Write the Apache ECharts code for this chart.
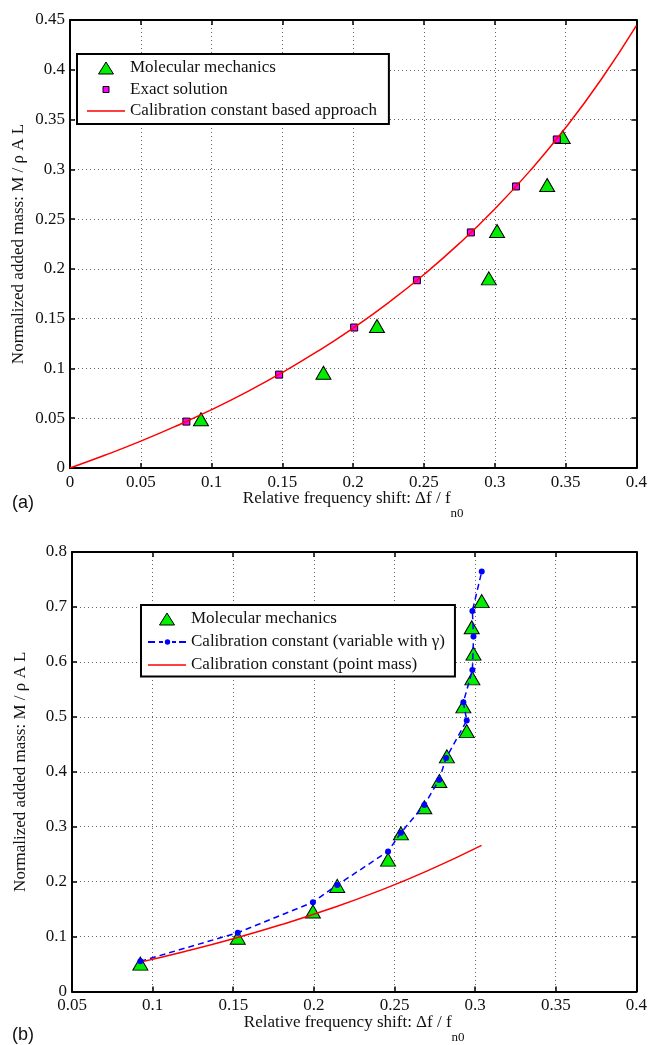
<!DOCTYPE html>
<html>
<head>
<meta charset="utf-8">
<script src="https://cdn.jsdelivr.net/npm/echarts@6/dist/echarts.min.js"></script>
<style>
html,body{margin:0;padding:0;background:#fff;}
#c{width:650px;height:1045px;}
</style>
</head>
<body>
<div id="c"></div>
<script>
// ---------- Panel (a) data ----------
const aMolX = [0.0925, 0.179, 0.2168, 0.2958, 0.3016, 0.337, 0.348];
const aMolY = [0.049, 0.0957, 0.1426, 0.1905, 0.238, 0.2842, 0.3325];
const aExactX = [0.0822, 0.1477, 0.2007, 0.245, 0.2831, 0.315, 0.3438];
const aExactY = [0.0466, 0.0938, 0.1411, 0.1886, 0.2366, 0.2828, 0.330];
const aCalX = [0, 0.025, 0.05, 0.075, 0.1, 0.125, 0.15, 0.175, 0.2, 0.225, 0.25, 0.275, 0.3, 0.325, 0.35, 0.375, 0.4];
const aCalY = [0, 0.013, 0.027, 0.0422, 0.0586, 0.0765, 0.096, 0.1173, 0.1406, 0.1662, 0.1944, 0.2256, 0.2602, 0.2987, 0.3417, 0.39, 0.4444];

// ---------- Panel (b) data ----------
const bMolX = [0.0924, 0.1528, 0.1994, 0.2145, 0.246, 0.254, 0.2685, 0.2778, 0.2825, 0.2948, 0.2927, 0.2983, 0.299, 0.2979, 0.3041];
const bMolY = [0.0507, 0.098, 0.1457, 0.1922, 0.240, 0.2878, 0.3355, 0.3833, 0.428, 0.474, 0.519, 0.570, 0.615, 0.663, 0.7106];
const bVarX = [0.0924, 0.1528, 0.1994, 0.2145, 0.246, 0.254, 0.2685, 0.2776, 0.282, 0.2948, 0.2927, 0.2983, 0.299, 0.2983, 0.3041];
const bVarY = [0.055, 0.107, 0.1624, 0.194, 0.255, 0.289, 0.3397, 0.385, 0.425, 0.4934, 0.5264, 0.585, 0.646, 0.6926, 0.7645];
const bPtX = [0.0924, 0.12, 0.15, 0.18, 0.21, 0.24, 0.27, 0.304];
const bPtY = [0.0535, 0.0728, 0.096, 0.1218, 0.1506, 0.1828, 0.2191, 0.2661];

// ---------- axis ranges / labels ----------
const aXRange = [0, 0.4], aYRange = [0, 0.45];
const bXRange = [0.05, 0.4], bYRange = [0, 0.8];
const xTitle = 'Relative frequency shift: Δf / f';
const xSub = 'n0';
const yTitle = 'Normalized added mass: M / ρ A L';
const legendA = ['Molecular mechanics', 'Exact solution', 'Calibration constant based approach'];
const legendB = ['Molecular mechanics', 'Calibration constant (variable with γ)', 'Calibration constant (point mass)'];
const panelLabels = ['(a)', '(b)'];

const zip = (xs, ys) => xs.map((x, i) => [x, ys[i]]);
const SERIF = 'Liberation Serif';
const FS = 17;

function fmt(v) { return String(+v.toFixed(3)); }

const tickStyle = { show: true, inside: true, length: 5, lineStyle: { color: '#000', width: 1.5 } };
const frameLine = { show: true, onZero: false, lineStyle: { color: '#000', width: 2 } };
const dotGrid = { show: true, lineStyle: { color: '#666', width: 1, type: [1, 3] } };

function mainX(grid, range, name) {
  return {
    type: 'value', gridIndex: grid, min: range[0], max: range[1], interval: 0.05,
    position: 'bottom',
    axisLine: frameLine, axisTick: tickStyle,
    axisLabel: { color: '#111', fontFamily: SERIF, fontSize: FS, margin: 6, formatter: fmt },
    splitLine: dotGrid,
    name: '{a|' + name + '}{b|' + xSub + '}',
    nameLocation: 'middle', nameGap: 21, nameMoveOverlap: false,
    nameTextStyle: {
      rich: {
        a: { fontFamily: SERIF, fontSize: 17, lineHeight: 20, color: '#111' },
        b: { fontFamily: SERIF, fontSize: 13, lineHeight: 14, color: '#111', padding: [30, 0, 0, 0] }
      }
    }
  };
}
function boxX(grid, range) {
  return {
    type: 'value', gridIndex: grid, min: range[0], max: range[1], interval: 0.05,
    position: 'top', axisLine: frameLine, axisTick: tickStyle,
    axisLabel: { show: false }, splitLine: { show: false }
  };
}
function mainY(grid, range, interval) {
  return {
    type: 'value', gridIndex: grid, min: range[0], max: range[1], interval: interval,
    position: 'left', axisLine: frameLine, axisTick: tickStyle,
    axisLabel: { color: '#111', fontFamily: SERIF, fontSize: FS, margin: 5, formatter: fmt },
    splitLine: dotGrid,
    name: yTitle, nameLocation: 'middle', nameGap: 43, nameRotate: 90, nameMoveOverlap: false,
    nameTextStyle: { fontFamily: SERIF, fontSize: 17, color: '#111' }
  };
}
function boxY(grid, range, interval) {
  return {
    type: 'value', gridIndex: grid, min: range[0], max: range[1], interval: interval,
    position: 'right', axisLine: frameLine, axisTick: tickStyle,
    axisLabel: { show: false }, splitLine: { show: false }
  };
}

// legend icons (keep-aspect paths; bounding corners set by move-to points)
const triIcon = 'path://M0,0M15,13M0,12.5L7.5,0.5L15,12.5Z';
const sqIcon = 'path://M0,0M13,13M3.5,3.5L9.5,3.5L9.5,9.5L3.5,9.5Z';
const redIcon = 'path://M0,0M38,13M0,5.75L38,5.75L38,7.25L0,7.25Z';
const blueIcon = 'path://M0,0M38,13M0,5.5L7,5.5L7,7.5L0,7.5Z M11,5.5L15,5.5L15,7.5L11,7.5Z M16.8,6.5A2.7,2.7,0,1,0,22.2,6.5A2.7,2.7,0,1,0,16.8,6.5Z M24,5.5L28,5.5L28,7.5L24,7.5Z M31,5.5L38,5.5L38,7.5L31,7.5Z';
const markerBorder = { borderColor: '#000', borderWidth: 1 };
const noBorder = { borderWidth: 0 };

const legendText = { fontFamily: SERIF, fontSize: FS, lineHeight: 17, color: '#111' };

const chart = echarts.init(document.getElementById('c'), null, { renderer: 'canvas' });
chart.setOption({
  animation: false,
  backgroundColor: '#fff',
  title: [
    { text: panelLabels[0], left: 12, top: 494, padding: 0, textStyle: { fontFamily: 'Liberation Sans', fontSize: 18, fontWeight: 'normal', color: '#111' } },
    { text: panelLabels[1], left: 12, top: 1026, padding: 0, textStyle: { fontFamily: 'Liberation Sans', fontSize: 18, fontWeight: 'normal', color: '#111' } }
  ],
  grid: [
    { left: 70, top: 20, width: 568, height: 448 },
    { left: 72, top: 552, width: 566, height: 446 }
  ],
  xAxis: [mainX(0, aXRange, xTitle), boxX(0, aXRange), mainX(1, bXRange, xTitle), boxX(1, bXRange)],
  yAxis: [mainY(0, aYRange, 0.05), boxY(0, aYRange, 0.05), mainY(1, bYRange, 0.1), boxY(1, bYRange, 0.1)],
  legend: [
    {
      left: 77, top: 54, orient: 'vertical', itemWidth: 38, itemHeight: 13, itemGap: 4.5,
      padding: [5.5, 12, 4.5, 10], borderColor: '#000', borderWidth: 2, backgroundColor: '#fff',
      textStyle: legendText, selectedMode: false,
      data: [
        { name: legendA[0], icon: triIcon, itemStyle: markerBorder },
        { name: legendA[1], icon: sqIcon, itemStyle: markerBorder },
        { name: legendA[2], icon: redIcon, itemStyle: noBorder }
      ]
    },
    {
      left: 141, top: 605, orient: 'vertical', itemWidth: 38, itemHeight: 13, itemGap: 6,
      padding: [5.5, 10, 3, 7], borderColor: '#000', borderWidth: 2, backgroundColor: '#fff',
      textStyle: legendText, selectedMode: false,
      data: [
        { name: legendB[0] + ' ', icon: triIcon, itemStyle: markerBorder },
        { name: legendB[1], icon: blueIcon, itemStyle: noBorder },
        { name: legendB[2], icon: redIcon, itemStyle: noBorder }
      ]
    }
  ],
  series: [
    {
      name: legendA[0], type: 'scatter', xAxisIndex: 0, yAxisIndex: 0,
      symbol: 'triangle', symbolSize: [15, 13],
      itemStyle: { color: '#00ee00', borderColor: '#000', borderWidth: 1, opacity: 1 },
      data: zip(aMolX, aMolY)
    },
    {
      name: legendA[1], type: 'scatter', xAxisIndex: 0, yAxisIndex: 0,
      symbol: 'rect', symbolSize: 7,
      itemStyle: { color: '#ff00ff', borderColor: '#000', borderWidth: 1, opacity: 1 },
      data: zip(aExactX, aExactY)
    },
    {
      name: legendA[2], type: 'line', xAxisIndex: 0, yAxisIndex: 0,
      symbol: 'none', smooth: true,
      lineStyle: { color: '#ff0000', width: 1.5 }, itemStyle: { color: '#ff0000' },
      data: zip(aCalX, aCalY)
    },
    {
      name: legendB[0] + ' ', type: 'scatter', xAxisIndex: 2, yAxisIndex: 2,
      symbol: 'triangle', symbolSize: [15, 13],
      itemStyle: { color: '#00ee00', borderColor: '#000', borderWidth: 1, opacity: 1 },
      data: zip(bMolX, bMolY)
    },
    {
      name: legendB[1], type: 'line', xAxisIndex: 2, yAxisIndex: 2,
      symbol: 'circle', symbolSize: 6, showSymbol: true,
      lineStyle: { color: '#0000ff', width: 1.5, type: [6, 4] },
      itemStyle: { color: '#0000ff', borderWidth: 0 },
      data: zip(bVarX, bVarY)
    },
    {
      name: legendB[2], type: 'line', xAxisIndex: 2, yAxisIndex: 2,
      symbol: 'none', smooth: true,
      lineStyle: { color: '#ff0000', width: 1.5 }, itemStyle: { color: '#ff0000' },
      data: zip(bPtX, bPtY)
    }
  ]
});
</script>
</body>
</html>
